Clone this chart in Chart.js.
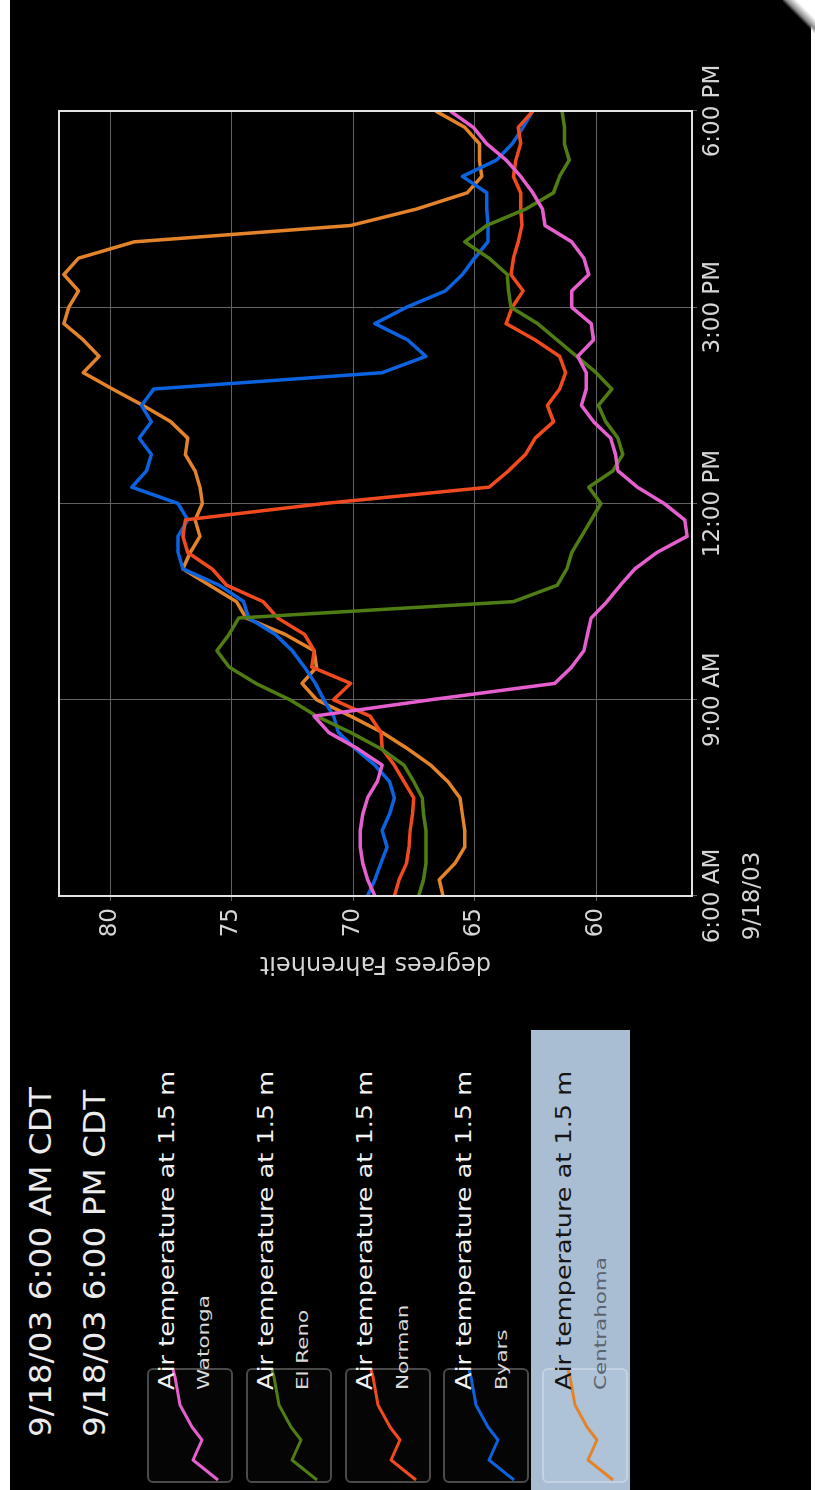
<!DOCTYPE html>
<html>
<head>
<meta charset="utf-8">
<script src="https://cdn.jsdelivr.net/npm/chart.js@4/dist/chart.umd.min.js"></script>
<style>
html,body{margin:0;padding:0;background:#fff;width:815px;height:1490px;overflow:hidden;}
#stage{position:absolute;left:0;top:0;width:1490px;height:815px;transform-origin:0 0;transform:translateY(1490px) rotate(-90deg);font-family:"DejaVu Sans",sans-serif;}
#bg{position:absolute;left:0;top:10px;width:1490px;height:801px;background:#000;}
.t{position:absolute;white-space:nowrap;transform-origin:0 0;}
.box{position:absolute;box-sizing:border-box;border:2px solid #4a4a4a;border-radius:6px;background:#050505;}
#hl{position:absolute;background:#a9bdd3;}
#chartWrap{position:absolute;left:450px;top:0;width:1040px;height:815px;}
#curl{position:absolute;right:0;top:0;width:32px;height:34px;background:linear-gradient(225deg,#fff 0,#fff 28%,#c8c8c8 36%,#8a8a8a 44%,rgba(0,0,0,0) 52%);}
</style>
</head>
<body>
<div id="stage">
  <div id="bg"></div>
  <div id="legend"></div>
  <div id="chartWrap"><canvas id="c" width="1040" height="815"></canvas></div>
</div>
<div id="curl"></div>
<script>
// ---- data ----
const titleLines = ['9/18/03 6:00 AM CDT', '9/18/03 6:00 PM CDT'];
const seriesLabel = 'Air temperature at 1.5 m';
const stations = ['Watonga', 'El Reno', 'Norman', 'Byars', 'Centrahoma'];
const stationColors = ['#e65fcf', '#4f7d14', '#f04a1e', '#0b63df', '#e4842a'];
const highlighted = 'Centrahoma';

const times = ['6:00','6:15','6:30','6:45','7:00','7:15','7:30','7:45','8:00','8:15','8:30','8:45',
  '9:00','9:15','9:30','9:45','10:00','10:15','10:30','10:45','11:00','11:15','11:30','11:45',
  '12:00','12:15','12:30','12:45','13:00','13:15','13:30','13:45','14:00','14:15','14:30','14:45',
  '15:00','15:15','15:30','15:45','16:00','16:15','16:30','16:45','17:00','17:15','17:30','17:45','18:00'];

const watonga = [69.1,69.4,69.6,69.7,69.7,69.6,69.4,69.0,68.8,69.8,71.0,71.6,
  66.8,61.7,61.0,60.5,60.35,60.2,59.55,59.0,58.4,57.5,56.25,56.35,
  57.2,58.3,59.1,59.2,59.4,60.1,60.6,60.4,60.4,60.75,60.1,60.2,
  61.0,61.0,60.3,60.5,61.0,62.1,62.2,62.6,63.1,63.7,64.5,65.05,66.0];
const elReno = [67.3,67.1,67.0,67.0,67.0,67.1,67.15,67.5,67.9,68.85,70.1,71.5,
  72.6,74.0,75.1,75.6,75.1,74.7,63.4,61.6,61.2,61.0,60.6,60.2,
  59.8,60.3,59.3,58.9,59.1,59.6,59.9,59.35,60.0,60.8,61.6,62.4,
  63.5,63.6,63.65,64.4,65.4,64.5,62.9,61.75,61.5,61.1,61.3,61.3,61.4];
const norman = [68.3,68.1,67.8,67.7,67.65,67.55,67.5,67.9,68.3,68.8,68.85,69.3,
  70.8,70.1,71.7,71.6,72.0,73.1,73.7,75.2,75.8,76.8,77.0,76.9,
  71.2,64.4,63.6,62.9,62.5,61.75,62.0,61.5,61.25,61.5,62.5,63.7,
  63.45,63.0,63.5,63.4,63.2,63.05,63.1,63.1,63.4,63.3,63.1,63.2,62.6];
const byars = [69.4,69.1,68.85,68.6,68.8,68.5,68.3,68.5,69.1,69.9,70.6,70.8,
  71.2,71.55,72.0,72.5,73.2,74.3,74.5,75.5,77.0,77.2,77.2,76.8,
  77.2,79.1,78.5,78.3,78.8,78.3,78.7,78.2,68.8,67.0,67.75,69.1,
  67.8,66.2,65.5,65.0,64.45,64.45,64.5,64.5,65.5,64.1,63.45,63.0,62.6];
const centrahoma = [66.3,66.45,65.8,65.4,65.4,65.5,65.6,66.1,66.8,67.75,68.8,70.1,
  71.5,72.1,71.5,71.6,72.8,74.4,74.8,75.9,77.0,76.7,76.3,76.5,
  76.2,76.3,76.5,76.9,76.8,77.5,78.65,79.9,81.1,80.45,81.1,81.9,
  81.7,81.3,81.9,81.3,79.0,70.1,67.4,65.3,64.7,64.8,64.8,65.4,66.6];

const xTickValues = [6, 9, 12, 15, 18];
const xTickLabels = ['6:00 AM', '9:00 AM', '12:00 PM', '3:00 PM', '6:00 PM'];
const dateLabel = '9/18/03';
const yTickValues = [60, 65, 70, 75, 80];
const yTitle = 'degrees Fahrenheit';

// ---- legend / titles ----
const stage = document.getElementById('legend');
function addText(txt, left, top, size, color, sx) {
  const d = document.createElement('div');
  d.className = 't';
  d.textContent = txt;
  d.style.left = left + 'px';
  d.style.top = top + 'px';
  d.style.fontSize = size + 'px';
  d.style.lineHeight = size + 'px';
  d.style.color = color;
  d.style.transform = 'scaleX(' + sx + ')';
  stage.appendChild(d);
}
addText(titleLines[0], 53, 25, 31, '#ececec', 1.057);
addText(titleLines[1], 53, 79, 31, '#ececec', 1.057);

const allSeries = [watonga, elReno, norman, byars, centrahoma];
const sample = [[3,71],[23,46],[43,55],[56,45],[78,33],[106,28],[113,26]];
stations.forEach((name, i) => {
  const isHl = name === highlighted;
  const boxTop = 147 + i * 98.8;
  if (isHl) {
    const h = document.createElement('div');
    h.id = 'hl';
    h.style.left = '0px'; h.style.top = (boxTop - 11) + 'px';
    h.style.width = '460px'; h.style.height = '99px';
    stage.appendChild(h);
  }
  const b = document.createElement('div');
  b.className = 'box';
  b.style.left = '7px'; b.style.top = boxTop + 'px';
  b.style.width = '115px'; b.style.height = '86px';
  if (isHl) { b.style.background = '#aec2d8'; b.style.borderColor = '#c3d3e4'; }
  stage.appendChild(b);
  const svgNS = 'http://www.w3.org/2000/svg';
  const svg = document.createElementNS(svgNS, 'svg');
  svg.setAttribute('width', '115'); svg.setAttribute('height', '86');
  svg.style.position = 'absolute';
  svg.style.left = '7px'; svg.style.top = boxTop + 'px';
  const pl = document.createElementNS(svgNS, 'polyline');
  pl.setAttribute('points', sample.map(p => p[0] + ',' + p[1]).join(' '));
  pl.setAttribute('fill', 'none');
  pl.setAttribute('stroke', stationColors[i]);
  pl.setAttribute('stroke-width', '3');
  pl.setAttribute('stroke-linejoin', 'round');
  svg.appendChild(pl);
  stage.appendChild(svg);
  addText(seriesLabel, 100, 155.5 + i * 99.3, 22, isHl ? '#151515' : '#f2f2f2', 1.16);
  addText(name, 100, 196 + i * 99.3, 16.5, isHl ? '#5a6470' : '#d8d8d8', 1.3);
});

// ---- chart ----
const hours = times.map(t => { const p = t.split(':'); return Number(p[0]) + Number(p[1]) / 60; });

const framePlugin = {
  id: 'frame',
  afterDatasetsDraw(chart) {
    const { ctx, chartArea: a } = chart;
    ctx.save();
    ctx.strokeStyle = '#e2e2e2';
    ctx.lineWidth = 2;
    ctx.strokeRect(a.left, a.top, a.right - a.left, a.bottom - a.top);
    ctx.restore();
  }
};

const gridColor = '#626262';
const tickFont = { family: 'DejaVu Sans', size: 23 };

new Chart(document.getElementById('c'), {
  type: 'line',
  data: {
    datasets: stations.map((name, i) => ({
      label: name,
      data: allSeries[i].map((v, k) => ({ x: hours[k], y: v })),
      borderColor: stationColors[i],
      backgroundColor: stationColors[i],
      borderWidth: 3.5,
      pointRadius: 0,
      tension: 0,
      borderJoinStyle: 'round',
      fill: false
    }))
  },
  options: {
    responsive: false,
    animation: false,
    devicePixelRatio: 1,
    layout: { padding: { left: 0, right: 111, top: 59, bottom: 0 } },
    plugins: { legend: { display: false }, tooltip: { enabled: false } },
    scales: {
      x: {
        type: 'linear',
        position: 'bottom',
        min: 6, max: 18,
        afterBuildTicks: s => { s.ticks = xTickValues.map(v => ({ value: v })); },
        afterFit: s => { s.height = 123; },
        border: { display: false },
        grid: { color: gridColor, lineWidth: 1, tickLength: 5, drawTicks: true },
        ticks: {
          color: '#d6d6d6',
          font: Object.assign({ lineHeight: '40px' }, tickFont),
          padding: -4,
          maxRotation: 0,
          autoSkip: false,
          callback: (v) => {
            const i = xTickValues.indexOf(v);
            return i === 0 ? [xTickLabels[i], dateLabel] : xTickLabels[i];
          }
        }
      },
      y: {
        type: 'linear',
        min: 56.05, max: 82.1,
        afterBuildTicks: s => { s.ticks = yTickValues.map(v => ({ value: v })); },
        afterFit: s => { s.width = 144; },
        border: { display: false },
        grid: { color: gridColor, lineWidth: 1, tickLength: 5, drawTicks: true },
        ticks: { color: '#d6d6d6', font: tickFont, padding: 7 },
        title: {
          display: true,
          text: yTitle,
          color: '#d6d6d6',
          font: { family: 'DejaVu Sans', size: 24 },
          padding: { top: 62, bottom: 0 }
        }
      }
    }
  },
  plugins: [framePlugin]
});
</script>
</body>
</html>
